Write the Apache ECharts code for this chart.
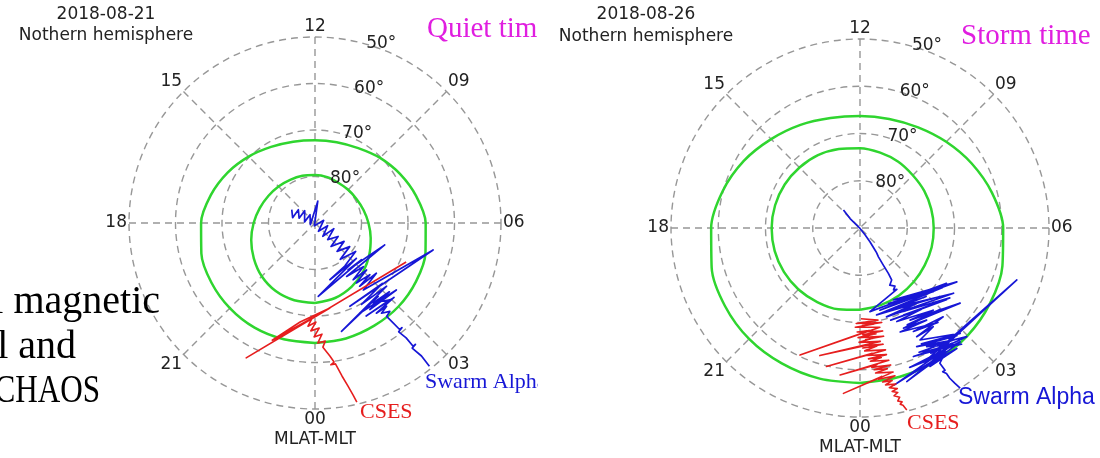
<!DOCTYPE html>
<html><head><meta charset="utf-8">
<script src="https://cdn.jsdelivr.net/npm/echarts@6/dist/echarts.min.js"></script>
<style>
html,body{margin:0;padding:0;background:#fff;width:1100px;height:458px;overflow:hidden;}
#left{position:absolute;left:0;top:0;width:538px;height:458px;}
#right{position:absolute;left:538px;top:0;width:562px;height:458px;}
</style></head><body>
<div id="left"></div><div id="right"></div>
<script>
// ---- data ----
const mltTickLabels = ['00','03','06','09','12','15','18','21'];
const mlatRingLabels = [50, 60, 70, 80];
const ovalMLT = [0,1,2,3,4,5,6,7,8,9,10,11,12,13,14,15,16,17,18,19,20,21,22,23,24];
const quietOuterOval = [64.2,64.3,64.5,64.6,64.9,65.4,66.2,67.5,68.9,70.2,71.4,72.0,72.2,71.9,71.1,69.8,68.3,66.8,65.5,64.7,64.3,64.1,64.0,64.1,64.2];
const quietInnerOval = [72.8,73.3,74.2,75.3,76.5,77.6,78.5,79.2,79.7,79.9,80.0,79.8,79.7,79.5,79.3,78.9,78.4,77.7,76.8,75.8,74.8,73.8,73.1,72.8,72.8];
const stormOuterOval = [57.2,57.4,57.6,57.8,58.2,58.8,59.7,61.1,62.7,64.2,65.4,66.1,66.3,65.9,64.8,63.4,61.6,59.9,58.5,57.5,57.0,56.8,56.9,57.0,57.2];
const stormInnerOval = [72.7,73.1,73.5,73.9,74.2,74.3,74.4,74.4,74.3,74.2,73.8,73.5,73.1,72.7,72.2,71.9,71.6,71.4,71.3,71.3,71.4,71.6,71.9,72.2,72.7];
// projected positions (degrees of colatitude, x toward 06 MLT, y toward 12 MLT)
const quietSwarm = [[-5.0,2.87],[-4.81,1.14],[-3.58,2.86],[-3.42,1.02],[-2.22,2.65],[-2.24,0.24],[-1.07,1.77],[-1.0,-0.35],[0.6,4.7],[-0.13,-0.62],[1.86,0.57],[0.74,-1.78],[2.72,-0.59],[1.68,-2.86],[4.06,-1.22],[2.72,-3.57],[4.97,-2.9],[3.45,-5.05],[6.25,-3.96],[4.74,-6.11],[7.46,-5.08],[5.44,-7.8],[8.74,-6.12],[6.41,-9.25],[3.2,-12.2],[8.9,-7.6],[0.7,-15.8],[10,-7.9],[7.1,-10.1],[15,-4.7],[6.8,-11.5],[10.4,-9.4],[8.2,-12.2],[11.1,-10.1],[8.9,-12.9],[11.8,-11.1],[9.6,-13.6],[13.2,-10.8],[10.4,-14.4],[25.4,-5.8],[7.5,-17.9],[14.5,-13.0],[10.0,-17.5],[15.4,-13.6],[5.7,-23.3],[13.6,-15.8],[9.6,-19.4],[17.5,-14.4],[11.8,-18.6],[16.0,-14.8],[12.5,-17.2],[16.1,-16.5],[11.0,-20.0],[17.0,-16.0],[13.2,-19.4],[15.4,-17.9],[14.3,-19.4],[16.1,-19],[15.4,-20.1],[16.8,-21.5],[18.2,-22.9],[18.7,-22.5],[18.0,-23.4],[19.6,-24.7],[21.1,-26.5],[21.6,-26.1],[20.9,-26.9],[22.9,-28.6],[24.6,-30.8]];
const quietCSES = [[19.6,-8.4],[-14.8,-29.0],[3.2,-18.3],[-3.2,-21.3],[-9.2,-25.2],[-0.6,-20.4],[-1.5,-22.2],[0.2,-21.3],[-0.9,-23.2],[0.9,-22.6],[-0.2,-24.5],[1.5,-23.9],[0.6,-25.8],[2.2,-25.4],[1.7,-26.7],[3.2,-28.6],[4.1,-29.9],[3.4,-30.5],[4.4,-30.3],[5.8,-32.9],[7.1,-35.1],[8.2,-37.0],[9.0,-38.5]];
const stormSwarm = [[-3.5,3.8],[-2.1,2.0],[-0.7,0.6],[0,-0.1],[1.1,-1.5],[2.1,-2.9],[3.2,-4.7],[2.8,-5.0],[3.5,-5.2],[3.9,-6.1],[4.9,-7.8],[6.0,-9.6],[6.7,-11.0],[6.3,-12.1],[7.4,-12.3],[7.1,-13.1],[7.8,-13.0],[2.1,-17.7],[18.3,-11.7],[4.2,-17.4],[20.5,-11.4],[7.1,-15.2],[15.5,-13.5],[6.0,-16.0],[17.5,-12.6],[3.5,-18.4],[16.9,-14.5],[4.8,-18.0],[14.0,-14.5],[8.5,-16.6],[19.8,-13.8],[5.6,-18.8],[12.0,-15.9],[8.0,-18.0],[19.0,-14.8],[9.2,-18.4],[18.3,-15.2],[6.5,-19.5],[13.0,-17.2],[7.8,-19.8],[15.5,-17.4],[10.6,-19.5],[21.2,-15.9],[10.0,-20.5],[17.0,-17.2],[9.2,-21.2],[14.1,-19.5],[8.5,-22.0],[16.5,-20.0],[11.3,-21.9],[17.6,-18.8],[12.0,-23.0],[15.5,-20.9],[12.7,-23.7],[21.2,-22.3],[13.0,-24.5],[20.5,-22.8],[12.0,-25.1],[19.8,-23.7],[12.5,-26.3],[21.5,-24.6],[14.1,-25.1],[22.6,-23.0],[15.0,-26.5],[19.5,-24.4],[11.3,-27.2],[19.0,-25.1],[9.9,-32.5],[21.2,-24.1],[10.5,-29.5],[17.5,-26.8],[7.3,-33.2],[18.3,-25.5],[14.1,-27.9],[33.2,-11.0],[15.5,-27.2],[18.3,-26.2],[14.8,-29.3],[20.5,-25.5],[16.2,-27.9],[17.6,-27.2],[16.9,-28.6],[17.3,-29.0],[18.0,-30.1],[17.5,-30.4],[18.3,-30.8],[19.0,-31.8],[20.1,-32.9],[21.2,-33.9]];
const stormCSES = [[0.2,-19.2],[3.8,-19.5],[-0.8,-20.2],[4.6,-20.0],[0.5,-20.6],[3.0,-20.3],[-1.0,-21.0],[4.2,-21.0],[-12.7,-26.9],[2.0,-21.7],[-0.6,-22.0],[4.8,-21.8],[0.6,-22.6],[3.4,-22.4],[-0.4,-23.2],[5.0,-22.9],[1.2,-23.6],[2.9,-23.3],[-0.2,-24.2],[4.3,-24.0],[-8.5,-27.0],[1.5,-24.8],[4.9,-24.6],[0.6,-25.4],[3.6,-25.0],[1.0,-26.0],[5.4,-25.8],[-7.1,-29.3],[2.6,-26.5],[1.2,-27.0],[5.6,-26.8],[1.8,-27.7],[4.5,-27.4],[2.2,-28.2],[6.1,-28.0],[-4.2,-31.1],[3.6,-28.9],[2.5,-29.5],[6.5,-29.0],[3.0,-30.0],[5.8,-29.8],[3.3,-30.7],[7.0,-30.5],[-3.5,-35.0],[4.6,-31.4],[3.9,-32.0],[7.4,-31.3],[4.8,-32.6],[6.8,-32.3],[5.4,-33.2],[7.6,-33.0],[6.2,-33.8],[7.9,-34.0],[6.8,-34.6],[8.0,-34.8],[7.2,-35.5],[8.4,-35.8],[8.0,-36.6],[8.9,-36.8],[8.5,-37.3],[9.1,-37.5],[9.9,-38.5]];

// ---- styles ----
const GREEN = '#2fd52f', BLUE = '#1717d6', RED = '#e61e1e', MAGENTA = '#e01ee0', GREY = '#979797';
const SANS = '"DejaVu Sans", sans-serif', SERIF = '"Liberation Serif", serif';

function txt(text, x, y, font, fill, align, sx) {
  return {type:'text', x:x, y:y, z:20, scaleX:sx||1, style:{text:text, font:font, fill:fill, align:align||'center', verticalAlign:'middle'}};
}

function panel(p) {
  const dash = {color:GREY, width:1.4, type:[7,5]};
  return {
    animation:false,
    polar:{center:p.center, radius:p.R},
    angleAxis:{type:'value', min:0, max:24, interval:3, startAngle:270, clockwise:false,
      axisLine:{show:false}, axisTick:{show:false}, splitLine:{show:true, lineStyle:dash},
      axisLabel:{margin:2, fontFamily:'DejaVu Sans', fontSize:17, color:'#222',
        formatter:function(v){ return v >= 24 ? '' : mltTickLabels[Math.round(v/3)]; }}},
    radiusAxis:{type:'value', min:50, max:90, interval:10, inverse:true,
      axisLine:{show:false}, axisTick:{show:false}, axisLabel:{show:false},
      splitLine:{show:true, lineStyle:dash}},
    grid:{left:p.center[0]-p.R, top:p.center[1]-p.R, width:2*p.R, height:2*p.R},
    xAxis:{type:'value', min:-40, max:40, show:false},
    yAxis:{type:'value', min:-40, max:40, show:false},
    series:[
      {type:'line', coordinateSystem:'polar', data:ovalMLT.map(function(h,i){return [p.outer[i], h];}),
        smooth:0.3, symbol:'none', lineStyle:{color:GREEN, width:2.5}, z:3},
      {type:'line', coordinateSystem:'polar', data:ovalMLT.map(function(h,i){return [p.inner[i], h];}),
        smooth:0.3, symbol:'none', lineStyle:{color:GREEN, width:2.5}, z:3},
      {type:'line', data:p.swarm, symbol:'none', lineStyle:{color:BLUE, width:1.7, join:'round'}, z:4},
      {type:'line', data:p.cses, symbol:'none', lineStyle:{color:RED, width:1.6, join:'round'}, z:5},
      {type:'scatter', coordinateSystem:'polar', data:mlatRingLabels.map(function(v){return [v, 11];}),
        symbolSize:0, z:6, silent:true, itemStyle:{opacity:1},
        label:{show:true, position:'right', distance:3, fontFamily:'DejaVu Sans', fontSize:17, color:'#222',
          formatter:function(q){ return q.value[0] + '°'; }}}
    ],
    graphic:p.texts
  };
}

const left = echarts.init(document.getElementById('left'));
left.setOption(panel({
  center:[315,223], R:186, outer:quietOuterOval, inner:quietInnerOval, swarm:quietSwarm, cses:quietCSES,
  texts:[
    txt('l magnetic', 160, 302, '40px ' + SERIF, '#000', 'right'),
    txt('l and', 76, 347, '40px ' + SERIF, '#000', 'right'),
    txt('CHAOS', 100, 391, '41px ' + SERIF, '#000', 'right', 0.76),
    txt('2018-08-21', 106, 15, '17px ' + SANS, '#222'),
    txt('Nothern hemisphere', 106, 36, '17px ' + SANS, '#222'),
    txt('Quiet time', 427, 29, '29px ' + SERIF, MAGENTA, 'left'),
    txt('Swarm Alpha', 425, 382, '22px ' + SERIF, BLUE, 'left'),
    txt('CSES', 360, 412, '22px ' + SERIF, RED, 'left'),
    txt('MLAT-MLT', 315, 440, '17px ' + SANS, '#222')
  ]
}));

const right = echarts.init(document.getElementById('right'));
right.setOption(panel({
  center:[322,228], R:189, outer:stormOuterOval, inner:stormInnerOval, swarm:stormSwarm, cses:stormCSES,
  texts:[
    txt('2018-08-26', 108, 15, '17px ' + SANS, '#222'),
    txt('Nothern hemisphere', 108, 37, '17px ' + SANS, '#222'),
    txt('Storm time', 423, 36, '29px ' + SERIF, MAGENTA, 'left'),
    txt('Swarm Alpha', 420, 398, '23px "Liberation Sans", sans-serif', BLUE, 'left'),
    txt('CSES', 369, 423, '22px ' + SERIF, RED, 'left'),
    txt('MLAT-MLT', 322, 448, '17px ' + SANS, '#222')
  ]
}));
</script>
</body></html>
